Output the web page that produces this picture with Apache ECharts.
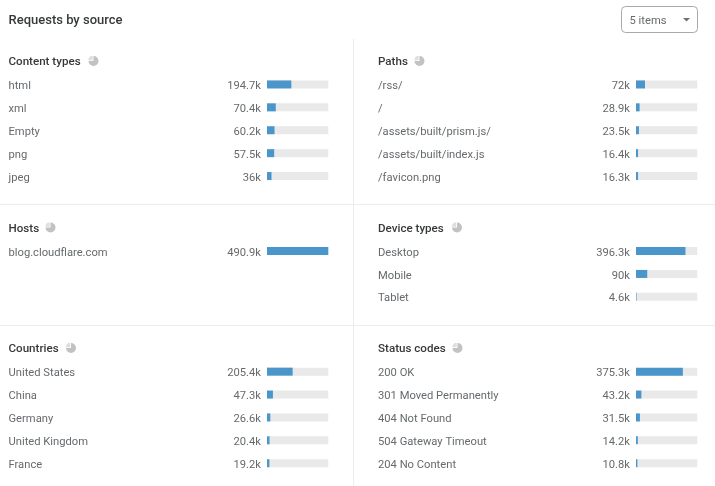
<!DOCTYPE html>
<html>
<head>
<meta charset="utf-8">
<style>
html, body { margin: 0; padding: 0; background: #fff; }
#main { width: 715px; height: 486px; }
</style>
<script src="https://cdn.jsdelivr.net/npm/echarts@6/dist/echarts.min.js"></script>
</head>
<body>
<div id="main"></div>
<script>
// Data, values in thousands of requests
var contentTypes = ['html', 'xml', 'Empty', 'png', 'jpeg'];
var contentValues = [194.7, 70.4, 60.2, 57.5, 36];
var paths = ['/rss/', '/', '/assets/built/prism.js/', '/assets/built/index.js', '/favicon.png'];
var pathValues = [72, 28.9, 23.5, 16.4, 16.3];
var hosts = ['blog.cloudflare.com'];
var hostValues = [490.9];
var deviceTypes = ['Desktop', 'Mobile', 'Tablet'];
var deviceValues = [396.3, 90, 4.6];
var countries = ['United States', 'China', 'Germany', 'United Kingdom', 'France'];
var countryValues = [205.4, 47.3, 26.6, 20.4, 19.2];
var statusCodes = ['200 OK', '301 Moved Permanently', '404 Not Found', '504 Gateway Timeout', '204 No Content'];
var statusValues = [375.3, 43.2, 31.5, 14.2, 10.8];
var maxValue = 490.9;

var FONT = 'Roboto, "Noto Sans", sans-serif';
var ROW = 22.9;

// Panel layout
var panels = [
    { title: 'Content types', cats: contentTypes, vals: contentValues, left: 267, textX: 8.5, top: 73, titleY: 61, iconX: 93.5 },
    { title: 'Paths', cats: paths, vals: pathValues, left: 636, textX: 378, top: 73, titleY: 61, iconX: 419.5 },
    { title: 'Hosts', cats: hosts, vals: hostValues, left: 267, textX: 8.5, top: 239.6, titleY: 227.5, iconX: 50.5 },
    { title: 'Device types', cats: deviceTypes, vals: deviceValues, left: 636, textX: 378, top: 239.6, titleY: 227.5, iconX: 457 },
    { title: 'Countries', cats: countries, vals: countryValues, left: 267, textX: 8.5, top: 360.2, titleY: 348, iconX: 71 },
    { title: 'Status codes', cats: statusCodes, vals: statusValues, left: 636, textX: 378, top: 360.2, titleY: 348, iconX: 457.5 }
];

var grids = [], xAxes = [], yAxes = [], series = [], graphics = [];

function dividerLine(x1, y1, x2, y2) {
    return {
        type: 'line',
        shape: { x1: x1, y1: y1, x2: x2, y2: y2 },
        style: { stroke: '#ececec', lineWidth: 1 }
    };
}

// Small pie glyph next to each panel title
function pieIcon(cx, cy) {
    return {
        type: 'group',
        children: [
            { type: 'sector', shape: { cx: cx, cy: cy, r: 5, r0: 0, startAngle: -Math.PI / 2, endAngle: Math.PI }, style: { fill: '#c2c2c2' } },
            { type: 'sector', shape: { cx: cx - 0.8, cy: cy - 0.8, r: 4.4, r0: 0, startAngle: Math.PI, endAngle: Math.PI * 1.5 }, style: { fill: '#dedede' } }
        ]
    };
}

panels.forEach(function (p, i) {
    grids.push({ left: p.left, top: p.top, width: 61.3, height: ROW * p.cats.length, containLabel: false });
    xAxes.push({ gridIndex: i, type: 'value', min: 0, max: maxValue, show: false });
    // Names on the far left of the panel
    // top align with a short line height pushes the text a bit below the bar centre
    yAxes.push({
        gridIndex: i, type: 'category', inverse: true, data: p.cats,
        axisLine: { show: false }, axisTick: { show: false },
        axisLabel: {
            interval: 0, align: 'left', margin: p.left - p.textX,
            verticalAlign: 'top', lineHeight: 3.5,
            color: '#666a6d', fontFamily: FONT, fontSize: 11.2
        }
    });
    // Formatted values right next to the bars
    yAxes.push({
        gridIndex: i, type: 'category', inverse: true, position: 'left',
        data: p.vals.map(function (v) { return v + 'k'; }),
        axisLine: { show: false }, axisTick: { show: false },
        axisLabel: {
            interval: 0, align: 'right', margin: 6,
            verticalAlign: 'top', lineHeight: 3.5,
            color: '#666a6d', fontFamily: FONT, fontSize: 11.2
        }
    });
    series.push({
        type: 'bar', xAxisIndex: i, yAxisIndex: i * 2,
        data: p.vals, barWidth: 8, silent: true, animation: false,
        showBackground: true,
        backgroundStyle: { color: '#e9e9e9' },
        itemStyle: { color: '#4a96cb' }
    });
    graphics.push({
        type: 'text', left: p.textX, top: p.titleY - 4.5,
        style: { text: p.title, fill: '#36393a', font: '500 11.6px ' + FONT }
    });
    graphics.push(pieIcon(p.iconX, p.titleY));
});

// Dividers
graphics.push(dividerLine(0, 204.5, 715, 204.5));
graphics.push(dividerLine(0, 325.5, 715, 325.5));
graphics.push(dividerLine(353.5, 39, 353.5, 486));

// Header and item picker
graphics.push({
    type: 'text', left: 8.5, top: 14.5,
    style: { text: 'Requests by source', fill: '#36393a', font: '500 13px ' + FONT }
});
graphics.push({
    type: 'rect',
    shape: { x: 621.5, y: 6.5, width: 76, height: 26, r: 4 },
    style: { fill: '#fff', stroke: '#a9a9a9', lineWidth: 1 }
});
graphics.push({
    type: 'text', left: 629.5, top: 16,
    style: { text: '5 items', fill: '#666a6d', font: '11.2px ' + FONT }
});
graphics.push({
    type: 'polygon',
    shape: { points: [[683, 18], [690, 18], [686.5, 21.5]] },
    style: { fill: '#6f7073' }
});

var chart = echarts.init(document.getElementById('main'), null, { renderer: 'canvas' });
chart.setOption({
    animation: false,
    backgroundColor: '#fff',
    grid: grids,
    xAxis: xAxes,
    yAxis: yAxes,
    series: series,
    graphic: { elements: graphics }
});
</script>
</body>
</html>
